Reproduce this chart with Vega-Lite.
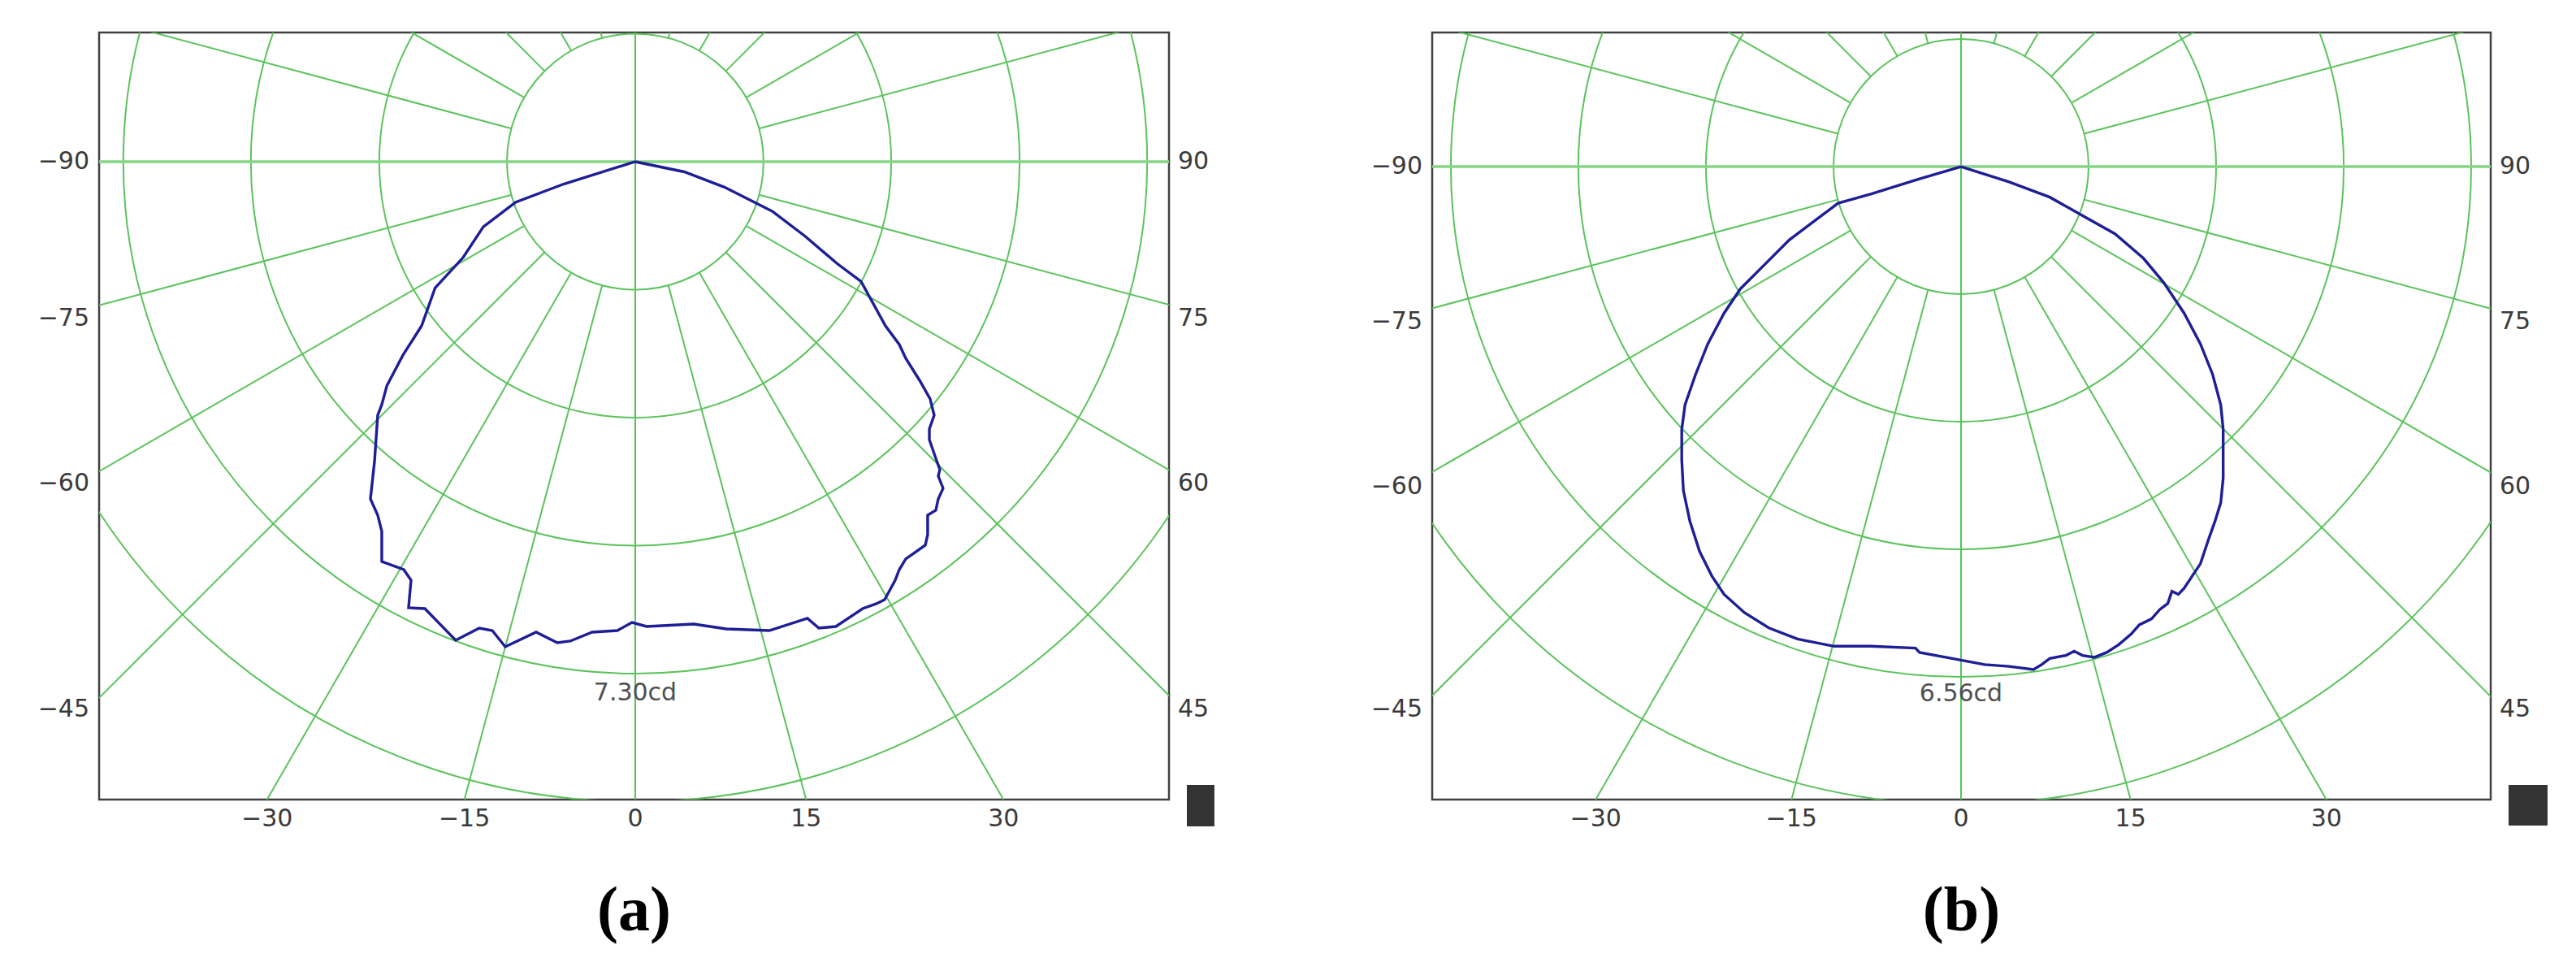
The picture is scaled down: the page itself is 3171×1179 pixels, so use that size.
{
  "$schema": "https://vega.github.io/schema/vega-lite/v6.json",
  "background": "white",
  "padding": {"left": 45, "top": 38, "right": 20, "bottom": 20},
  "spacing": 324,
  "bounds": "flush",
  "config": {"view": {"stroke": "#404040", "strokeWidth": 2.5}, "font": "DejaVu Sans"},
  "resolve": {"scale": {"x": "independent", "y": "independent", "radius": "independent"}},
  "datasets": {
    "ringsA": [{"ring": 1, "r": 1.825}, {"ring": 2, "r": 3.65}, {"ring": 3, "r": 5.475}, {"ring": 4, "r": 7.3}, {"ring": 5, "r": 9.125}],
    "ringsB": [{"ring": 1, "r": 1.64}, {"ring": 2, "r": 3.28}, {"ring": 3, "r": 4.92}, {"ring": 4, "r": 6.56}, {"ring": 5, "r": 8.2}],
    "peakA": [{"label": "7.30cd", "x": 0, "y": -7.3}],
    "peakB": [{"label": "6.56cd", "x": 0, "y": -6.56}],
    "cross": [{"dir": "h", "x": -14, "y": 0, "x2": 14, "y2": 0}, {"dir": "v", "x": 0, "y": -14, "x2": 0, "y2": 14}],
    "spokesA": [
      {"deg": 15, "x": 0.472, "y": -1.763, "x2": 3.623, "y2": -13.523},
      {"deg": 30, "x": 0.913, "y": -1.58, "x2": 7.0, "y2": -12.124},
      {"deg": 45, "x": 1.29, "y": -1.29, "x2": 9.899, "y2": -9.899},
      {"deg": 60, "x": 1.58, "y": -0.913, "x2": 12.124, "y2": -7.0},
      {"deg": 75, "x": 1.763, "y": -0.472, "x2": 13.523, "y2": -3.623},
      {"deg": 105, "x": 1.763, "y": 0.472, "x2": 13.523, "y2": 3.623},
      {"deg": 120, "x": 1.58, "y": 0.913, "x2": 12.124, "y2": 7.0},
      {"deg": 135, "x": 1.29, "y": 1.29, "x2": 9.899, "y2": 9.899},
      {"deg": 150, "x": 0.913, "y": 1.58, "x2": 7.0, "y2": 12.124},
      {"deg": 165, "x": 0.472, "y": 1.763, "x2": 3.623, "y2": 13.523},
      {"deg": -15, "x": -0.472, "y": -1.763, "x2": -3.623, "y2": -13.523},
      {"deg": -30, "x": -0.913, "y": -1.58, "x2": -7.0, "y2": -12.124},
      {"deg": -45, "x": -1.29, "y": -1.29, "x2": -9.899, "y2": -9.899},
      {"deg": -60, "x": -1.58, "y": -0.913, "x2": -12.124, "y2": -7.0},
      {"deg": -75, "x": -1.763, "y": -0.472, "x2": -13.523, "y2": -3.623},
      {"deg": -105, "x": -1.763, "y": 0.472, "x2": -13.523, "y2": 3.623},
      {"deg": -120, "x": -1.58, "y": 0.913, "x2": -12.124, "y2": 7.0},
      {"deg": -135, "x": -1.29, "y": 1.29, "x2": -9.899, "y2": 9.899},
      {"deg": -150, "x": -0.913, "y": 1.58, "x2": -7.0, "y2": 12.124},
      {"deg": -165, "x": -0.472, "y": 1.763, "x2": -3.623, "y2": 13.523}
    ],
    "spokesB": [
      {"deg": 15, "x": 0.424, "y": -1.584, "x2": 3.623, "y2": -13.523},
      {"deg": 30, "x": 0.82, "y": -1.42, "x2": 7.0, "y2": -12.124},
      {"deg": 45, "x": 1.16, "y": -1.16, "x2": 9.899, "y2": -9.899},
      {"deg": 60, "x": 1.42, "y": -0.82, "x2": 12.124, "y2": -7.0},
      {"deg": 75, "x": 1.584, "y": -0.424, "x2": 13.523, "y2": -3.623},
      {"deg": 105, "x": 1.584, "y": 0.424, "x2": 13.523, "y2": 3.623},
      {"deg": 120, "x": 1.42, "y": 0.82, "x2": 12.124, "y2": 7.0},
      {"deg": 135, "x": 1.16, "y": 1.16, "x2": 9.899, "y2": 9.899},
      {"deg": 150, "x": 0.82, "y": 1.42, "x2": 7.0, "y2": 12.124},
      {"deg": 165, "x": 0.424, "y": 1.584, "x2": 3.623, "y2": 13.523},
      {"deg": -15, "x": -0.424, "y": -1.584, "x2": -3.623, "y2": -13.523},
      {"deg": -30, "x": -0.82, "y": -1.42, "x2": -7.0, "y2": -12.124},
      {"deg": -45, "x": -1.16, "y": -1.16, "x2": -9.899, "y2": -9.899},
      {"deg": -60, "x": -1.42, "y": -0.82, "x2": -12.124, "y2": -7.0},
      {"deg": -75, "x": -1.584, "y": -0.424, "x2": -13.523, "y2": -3.623},
      {"deg": -105, "x": -1.584, "y": 0.424, "x2": -13.523, "y2": 3.623},
      {"deg": -120, "x": -1.42, "y": 0.82, "x2": -12.124, "y2": 7.0},
      {"deg": -135, "x": -1.16, "y": 1.16, "x2": -9.899, "y2": 9.899},
      {"deg": -150, "x": -0.82, "y": 1.42, "x2": -7.0, "y2": 12.124},
      {"deg": -165, "x": -0.424, "y": 1.584, "x2": -3.623, "y2": 13.523}
    ],
    "sidesA": [{"y": 0, "l": "−90", "r": "90"}, {"y": -2.236, "l": "−75", "r": "75"}, {"y": -4.588, "l": "−60", "r": "60"}, {"y": -7.81, "l": "−45", "r": "45"}],
    "sidesB": [{"y": 0, "l": "−90", "r": "90"}, {"y": -1.995, "l": "−75", "r": "75"}, {"y": -4.116, "l": "−60", "r": "60"}, {"y": -6.978, "l": "−45", "r": "45"}],
    "bottomA": [{"t": "−30", "x": -5.252}, {"t": "−15", "x": -2.437}, {"t": "0", "x": 0}, {"t": "15", "x": 2.437}, {"t": "30", "x": 5.252}],
    "bottomB": [{"t": "−30", "x": -4.698}, {"t": "−15", "x": -2.18}, {"t": "0", "x": 0}, {"t": "15", "x": 2.18}, {"t": "30", "x": 4.698}],
    "curveA": [
      {"i": 0, "x": 0, "y": 0},
      {"i": 1, "x": -1.021, "y": -0.319},
      {"i": 2, "x": -1.708, "y": -0.58},
      {"i": 3, "x": -2.167, "y": -0.929},
      {"i": 4, "x": -2.454, "y": -1.365},
      {"i": 5, "x": -2.855, "y": -1.801},
      {"i": 6, "x": -3.047, "y": -2.341},
      {"i": 7, "x": -3.314, "y": -2.76},
      {"i": 8, "x": -3.543, "y": -3.196},
      {"i": 9, "x": -3.615, "y": -3.464},
      {"i": 10, "x": -3.673, "y": -3.615},
      {"i": 11, "x": -3.719, "y": -4.276},
      {"i": 12, "x": -3.777, "y": -4.809},
      {"i": 13, "x": -3.673, "y": -5.04},
      {"i": 14, "x": -3.615, "y": -5.272},
      {"i": 15, "x": -3.615, "y": -5.701},
      {"i": 16, "x": -3.302, "y": -5.817},
      {"i": 17, "x": -3.198, "y": -5.967},
      {"i": 18, "x": -3.233, "y": -6.361},
      {"i": 19, "x": -3.001, "y": -6.373},
      {"i": 20, "x": -2.561, "y": -6.825},
      {"i": 21, "x": -2.225, "y": -6.651},
      {"i": 22, "x": -2.039, "y": -6.686},
      {"i": 23, "x": -1.854, "y": -6.917},
      {"i": 24, "x": -1.414, "y": -6.709},
      {"i": 25, "x": -1.112, "y": -6.86},
      {"i": 26, "x": -0.927, "y": -6.836},
      {"i": 27, "x": -0.614, "y": -6.709},
      {"i": 28, "x": -0.255, "y": -6.686},
      {"i": 29, "x": -0.046, "y": -6.57},
      {"i": 30, "x": 0.162, "y": -6.628},
      {"i": 31, "x": 0.834, "y": -6.593},
      {"i": 32, "x": 1.298, "y": -6.663},
      {"i": 33, "x": 1.912, "y": -6.686},
      {"i": 34, "x": 2.456, "y": -6.512},
      {"i": 35, "x": 2.619, "y": -6.651},
      {"i": 36, "x": 2.862, "y": -6.628},
      {"i": 37, "x": 3.244, "y": -6.373},
      {"i": 38, "x": 3.441, "y": -6.303},
      {"i": 39, "x": 3.557, "y": -6.245},
      {"i": 40, "x": 3.708, "y": -5.967},
      {"i": 41, "x": 3.766, "y": -5.817},
      {"i": 42, "x": 3.858, "y": -5.666},
      {"i": 43, "x": 4.137, "y": -5.469},
      {"i": 44, "x": 4.171, "y": -5.318},
      {"i": 45, "x": 4.171, "y": -5.04},
      {"i": 46, "x": 4.287, "y": -4.971},
      {"i": 47, "x": 4.322, "y": -4.809},
      {"i": 48, "x": 4.391, "y": -4.658},
      {"i": 49, "x": 4.322, "y": -4.484},
      {"i": 50, "x": 4.345, "y": -4.391},
      {"i": 51, "x": 4.287, "y": -4.229},
      {"i": 52, "x": 4.195, "y": -3.963},
      {"i": 53, "x": 4.195, "y": -3.812},
      {"i": 54, "x": 4.264, "y": -3.615},
      {"i": 55, "x": 4.206, "y": -3.383},
      {"i": 56, "x": 4.055, "y": -3.117},
      {"i": 57, "x": 3.858, "y": -2.804},
      {"i": 58, "x": 3.766, "y": -2.607},
      {"i": 59, "x": 3.569, "y": -2.341},
      {"i": 60, "x": 3.221, "y": -1.708},
      {"i": 61, "x": 2.878, "y": -1.452},
      {"i": 62, "x": 2.419, "y": -1.06},
      {"i": 63, "x": 1.961, "y": -0.711},
      {"i": 64, "x": 1.272, "y": -0.363},
      {"i": 65, "x": 0.7, "y": -0.145},
      {"i": 66, "x": 0, "y": 0}
    ],
    "curveB": [
      {"i": 0, "x": 0, "y": 0},
      {"i": 1, "x": -0.534, "y": -0.157},
      {"i": 2, "x": -1.162, "y": -0.353},
      {"i": 3, "x": -1.581, "y": -0.471},
      {"i": 4, "x": -1.895, "y": -0.707},
      {"i": 5, "x": -2.209, "y": -0.943},
      {"i": 6, "x": -2.523, "y": -1.257},
      {"i": 7, "x": -2.837, "y": -1.571},
      {"i": 8, "x": -3.047, "y": -1.885},
      {"i": 9, "x": -3.256, "y": -2.278},
      {"i": 10, "x": -3.413, "y": -2.671},
      {"i": 11, "x": -3.549, "y": -3.063},
      {"i": 12, "x": -3.591, "y": -3.378},
      {"i": 13, "x": -3.591, "y": -3.77},
      {"i": 14, "x": -3.57, "y": -4.163},
      {"i": 15, "x": -3.487, "y": -4.556},
      {"i": 16, "x": -3.361, "y": -4.949},
      {"i": 17, "x": -3.204, "y": -5.263},
      {"i": 18, "x": -3.047, "y": -5.499},
      {"i": 19, "x": -2.785, "y": -5.734},
      {"i": 20, "x": -2.471, "y": -5.93},
      {"i": 21, "x": -2.104, "y": -6.072},
      {"i": 22, "x": -1.633, "y": -6.166},
      {"i": 23, "x": -1.162, "y": -6.166},
      {"i": 24, "x": -0.586, "y": -6.19},
      {"i": 25, "x": -0.534, "y": -6.245},
      {"i": 26, "x": -0.115, "y": -6.323},
      {"i": 27, "x": 0.304, "y": -6.402},
      {"i": 28, "x": 0.618, "y": -6.425},
      {"i": 29, "x": 0.932, "y": -6.465},
      {"i": 30, "x": 1.037, "y": -6.402},
      {"i": 31, "x": 1.141, "y": -6.323},
      {"i": 32, "x": 1.351, "y": -6.284},
      {"i": 33, "x": 1.455, "y": -6.229},
      {"i": 34, "x": 1.56, "y": -6.284},
      {"i": 35, "x": 1.717, "y": -6.308},
      {"i": 36, "x": 1.874, "y": -6.245},
      {"i": 37, "x": 2.031, "y": -6.143},
      {"i": 38, "x": 2.188, "y": -6.009},
      {"i": 39, "x": 2.293, "y": -5.891},
      {"i": 40, "x": 2.45, "y": -5.813},
      {"i": 41, "x": 2.555, "y": -5.695},
      {"i": 42, "x": 2.659, "y": -5.616},
      {"i": 43, "x": 2.712, "y": -5.459},
      {"i": 44, "x": 2.795, "y": -5.499},
      {"i": 45, "x": 2.869, "y": -5.42},
      {"i": 46, "x": 2.973, "y": -5.263},
      {"i": 47, "x": 3.078, "y": -5.106},
      {"i": 48, "x": 3.183, "y": -4.792},
      {"i": 49, "x": 3.267, "y": -4.556},
      {"i": 50, "x": 3.34, "y": -4.32},
      {"i": 51, "x": 3.371, "y": -4.006},
      {"i": 52, "x": 3.371, "y": -3.378},
      {"i": 53, "x": 3.34, "y": -3.063},
      {"i": 54, "x": 3.235, "y": -2.671},
      {"i": 55, "x": 3.078, "y": -2.278},
      {"i": 56, "x": 2.869, "y": -1.885},
      {"i": 57, "x": 2.607, "y": -1.492},
      {"i": 58, "x": 2.345, "y": -1.178},
      {"i": 59, "x": 1.979, "y": -0.864},
      {"i": 60, "x": 1.56, "y": -0.628},
      {"i": 61, "x": 1.141, "y": -0.393},
      {"i": 62, "x": 0.618, "y": -0.196},
      {"i": 63, "x": 0, "y": 0}
    ]
  },
  "hconcat": [
    {
      "width": 1317,
      "height": 944,
      "title": {"text": "(a)", "orient": "bottom", "anchor": "middle", "font": "Liberation Serif", "fontSize": 78, "fontWeight": "bold", "color": "#000000", "offset": 60},
      "layer": [
        {
          "data": {"name": "ringsA"},
          "mark": {"type": "arc", "fillOpacity": 0, "stroke": "#5cc35c", "strokeWidth": 2, "theta": 0, "theta2": 6.2832, "clip": true},
          "encoding": {
            "x": {"datum": 0, "type": "quantitative", "scale": {"domain": [-7.647, 7.613], "nice": false, "zero": false}, "axis": null},
            "y": {"datum": 0, "type": "quantitative", "scale": {"domain": [-9.096, 1.842], "nice": false, "zero": false}, "axis": null},
            "radius": {"field": "r", "type": "quantitative", "stack": null, "scale": {"type": "linear", "domain": [0, 10], "range": [0, 863], "zero": true}, "legend": null}
          }
        },
        {
          "data": {"name": "spokesA"},
          "mark": {"type": "rule", "stroke": "#5cc35c", "strokeWidth": 2, "clip": true},
          "encoding": {
            "x": {"field": "x", "type": "quantitative"},
            "y": {"field": "y", "type": "quantitative"},
            "x2": {"field": "x2"},
            "y2": {"field": "y2"}
          }
        },
        {
          "data": {"name": "cross"},
          "transform": [{"filter": "datum.dir == 'v'"}],
          "mark": {"type": "rule", "stroke": "#55c455", "strokeWidth": 2, "clip": true},
          "encoding": {
            "x": {"field": "x", "type": "quantitative"},
            "y": {"field": "y", "type": "quantitative"},
            "x2": {"field": "x2"},
            "y2": {"field": "y2"}
          }
        },
        {
          "data": {"name": "cross"},
          "transform": [{"filter": "datum.dir == 'h'"}],
          "mark": {"type": "rule", "stroke": "#84d684", "strokeWidth": 3.5, "clip": true},
          "encoding": {
            "x": {"field": "x", "type": "quantitative"},
            "y": {"field": "y", "type": "quantitative"},
            "x2": {"field": "x2"},
            "y2": {"field": "y2"}
          }
        },
        {
          "data": {"name": "curveA"},
          "mark": {"type": "line", "stroke": "#1e1e96", "strokeWidth": 3.4, "clip": true},
          "encoding": {
            "x": {"field": "x", "type": "quantitative"},
            "y": {"field": "y", "type": "quantitative"},
            "order": {"field": "i", "type": "quantitative"}
          }
        },
        {
          "data": {"name": "peakA"},
          "mark": {"type": "text", "baseline": "top", "align": "center", "dy": 9, "fontSize": 30, "color": "#505050"},
          "encoding": {
            "x": {"field": "x", "type": "quantitative"},
            "y": {"field": "y", "type": "quantitative"},
            "text": {"field": "label"}
          }
        },
        {
          "data": {"name": "sidesA"},
          "mark": {"type": "text", "baseline": "middle", "align": "right", "dx": -12, "fontSize": 30, "color": "#3a3a3a"},
          "encoding": {
            "x": {"datum": -7.647, "type": "quantitative"},
            "y": {"field": "y", "type": "quantitative"},
            "text": {"field": "l"}
          }
        },
        {
          "data": {"name": "sidesA"},
          "mark": {"type": "text", "baseline": "middle", "align": "left", "dx": 11, "fontSize": 30, "color": "#3a3a3a"},
          "encoding": {
            "x": {"datum": 7.613, "type": "quantitative"},
            "y": {"field": "y", "type": "quantitative"},
            "text": {"field": "r"}
          }
        },
        {
          "data": {"name": "bottomA"},
          "mark": {"type": "text", "baseline": "top", "align": "center", "dy": 9, "fontSize": 30, "color": "#3a3a3a"},
          "encoding": {
            "x": {"field": "x", "type": "quantitative"},
            "y": {"datum": -9.096, "type": "quantitative"},
            "text": {"field": "t"}
          }
        },
        {
          "data": {"values": [{}]},
          "mark": {"type": "rect", "color": "#333333"},
          "encoding": {
            "x": {"datum": 7.868, "type": "quantitative"},
            "x2": {"datum": 8.261},
            "y": {"datum": -8.887, "type": "quantitative"},
            "y2": {"datum": -9.478}
          }
        }
      ]
    },
    {
      "width": 1303,
      "height": 944,
      "title": {"text": "(b)", "orient": "bottom", "anchor": "middle", "font": "Liberation Serif", "fontSize": 78, "fontWeight": "bold", "color": "#000000", "offset": 60},
      "layer": [
        {
          "data": {"name": "ringsB"},
          "mark": {"type": "arc", "fillOpacity": 0, "stroke": "#5cc35c", "strokeWidth": 2, "theta": 0, "theta2": 6.2832, "clip": true},
          "encoding": {
            "x": {"datum": 0, "type": "quantitative", "scale": {"domain": [-6.8, 6.811], "nice": false, "zero": false}, "axis": null},
            "y": {"datum": 0, "type": "quantitative", "scale": {"domain": [-8.137, 1.724], "nice": false, "zero": false}, "axis": null},
            "radius": {"field": "r", "type": "quantitative", "stack": null, "scale": {"type": "linear", "domain": [0, 10], "range": [0, 957.3], "zero": true}, "legend": null}
          }
        },
        {
          "data": {"name": "spokesB"},
          "mark": {"type": "rule", "stroke": "#5cc35c", "strokeWidth": 2, "clip": true},
          "encoding": {
            "x": {"field": "x", "type": "quantitative"},
            "y": {"field": "y", "type": "quantitative"},
            "x2": {"field": "x2"},
            "y2": {"field": "y2"}
          }
        },
        {
          "data": {"name": "cross"},
          "transform": [{"filter": "datum.dir == 'v'"}],
          "mark": {"type": "rule", "stroke": "#55c455", "strokeWidth": 2, "clip": true},
          "encoding": {
            "x": {"field": "x", "type": "quantitative"},
            "y": {"field": "y", "type": "quantitative"},
            "x2": {"field": "x2"},
            "y2": {"field": "y2"}
          }
        },
        {
          "data": {"name": "cross"},
          "transform": [{"filter": "datum.dir == 'h'"}],
          "mark": {"type": "rule", "stroke": "#84d684", "strokeWidth": 3.5, "clip": true},
          "encoding": {
            "x": {"field": "x", "type": "quantitative"},
            "y": {"field": "y", "type": "quantitative"},
            "x2": {"field": "x2"},
            "y2": {"field": "y2"}
          }
        },
        {
          "data": {"name": "curveB"},
          "mark": {"type": "line", "stroke": "#1e1e96", "strokeWidth": 3.4, "clip": true},
          "encoding": {
            "x": {"field": "x", "type": "quantitative"},
            "y": {"field": "y", "type": "quantitative"},
            "order": {"field": "i", "type": "quantitative"}
          }
        },
        {
          "data": {"name": "peakB"},
          "mark": {"type": "text", "baseline": "top", "align": "center", "dy": 6, "fontSize": 30, "color": "#505050"},
          "encoding": {
            "x": {"field": "x", "type": "quantitative"},
            "y": {"field": "y", "type": "quantitative"},
            "text": {"field": "label"}
          }
        },
        {
          "data": {"name": "sidesB"},
          "mark": {"type": "text", "baseline": "middle", "align": "right", "dx": -12, "fontSize": 30, "color": "#3a3a3a"},
          "encoding": {
            "x": {"datum": -6.8, "type": "quantitative"},
            "y": {"field": "y", "type": "quantitative"},
            "text": {"field": "l"}
          }
        },
        {
          "data": {"name": "sidesB"},
          "mark": {"type": "text", "baseline": "middle", "align": "left", "dx": 11, "fontSize": 30, "color": "#3a3a3a"},
          "encoding": {
            "x": {"datum": 6.811, "type": "quantitative"},
            "y": {"field": "y", "type": "quantitative"},
            "text": {"field": "r"}
          }
        },
        {
          "data": {"name": "bottomB"},
          "mark": {"type": "text", "baseline": "top", "align": "center", "dy": 9, "fontSize": 30, "color": "#3a3a3a"},
          "encoding": {
            "x": {"field": "x", "type": "quantitative"},
            "y": {"datum": -8.137, "type": "quantitative"},
            "text": {"field": "t"}
          }
        },
        {
          "data": {"values": [{}]},
          "mark": {"type": "rect", "color": "#333333"},
          "encoding": {
            "x": {"datum": 7.041, "type": "quantitative"},
            "x2": {"datum": 7.542},
            "y": {"datum": -7.949, "type": "quantitative"},
            "y2": {"datum": -8.472}
          }
        }
      ]
    }
  ]
}
